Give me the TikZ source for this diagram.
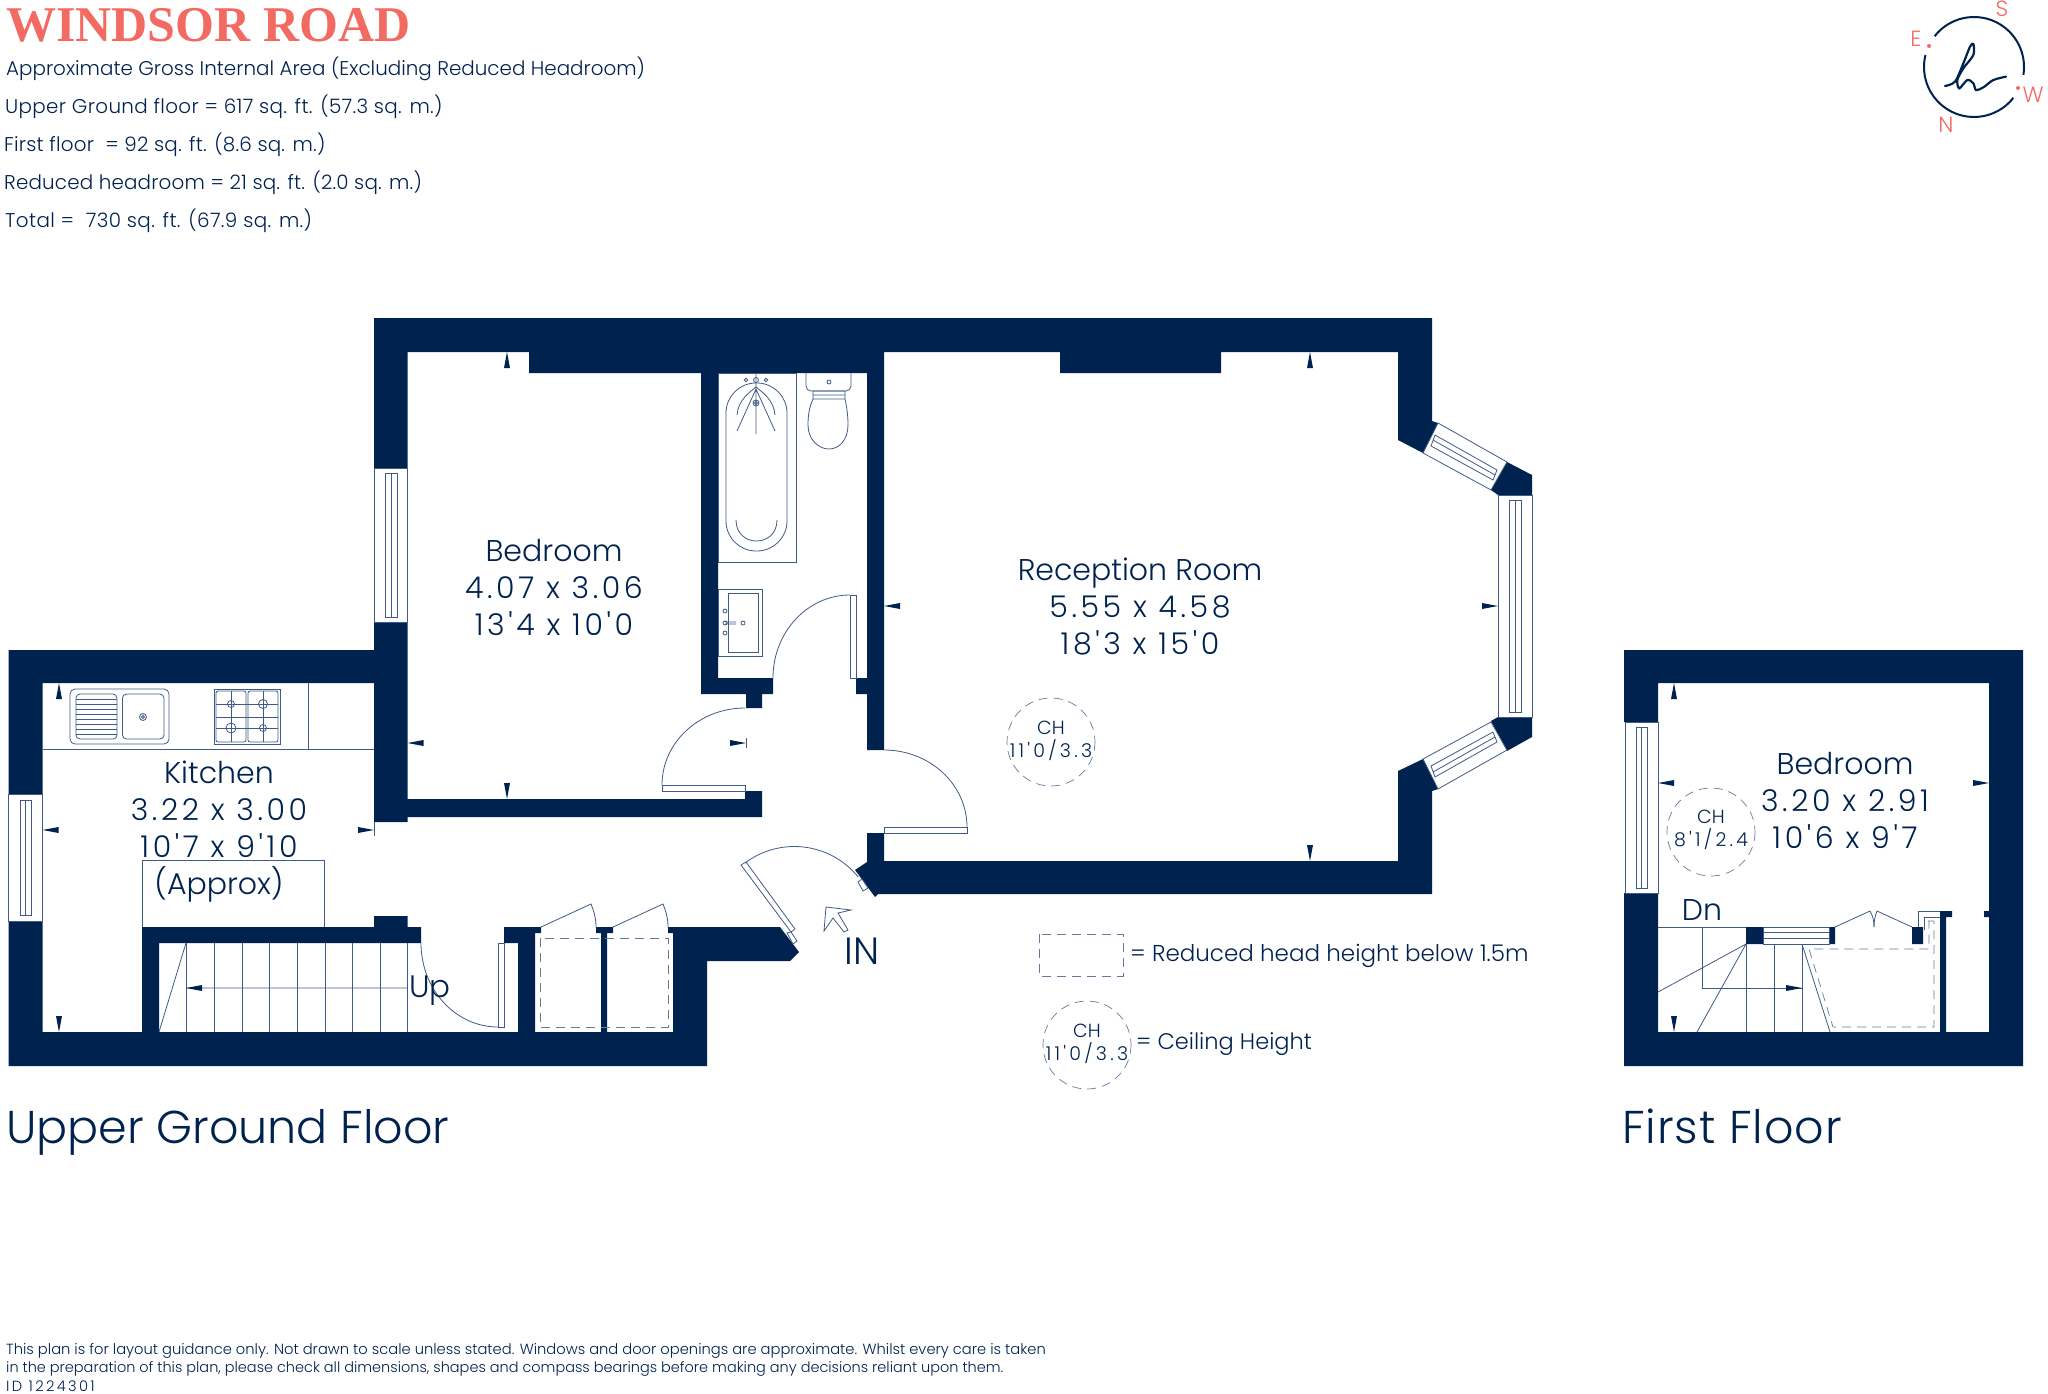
\documentclass[tikz,border=0pt]{standalone}
\usepackage{fontspec}
\setmainfont[UprightFont={* Light},Ligatures=TeXOff,Kerning=Off]{Poppins}
\newfontfamily\titlefont{Liberation Serif}
\newcommand{\spaced}[1]{\addfontfeatures{LetterSpace=#1}}
\definecolor{navy}{HTML}{00224F}
\definecolor{planline}{HTML}{3F5A86}
\definecolor{salmon}{HTML}{F26A62}
\begin{document}
\begin{tikzpicture}
      [x=1pt,y=-1pt,
       wall/.style={fill=navy},
       thinline/.style={draw=planline,line width=.8pt},
       dashline/.style={draw=planline!80,line width=.7pt,dash pattern=on 9pt off 6pt},
       roomtext/.style={text=navy,align=center,font=\fontsize{30}{37}\selectfont},
       areatext/.style={text=navy,anchor=west,inner sep=0pt,font=\fontsize{19.9}{24}\selectfont},
       floortext/.style={text=navy,anchor=base west,inner sep=0pt,font=\fontsize{46}{50}\selectfont},
       notetext/.style={text=navy,anchor=west,inner sep=0pt,font=\fontsize{14.68}{18}\selectfont},
       chtext/.style={text=navy,align=center,inner sep=0pt,font=\fontsize{19}{23}\selectfont},
       compass/.style={text=salmon,inner sep=0pt,font=\fontsize{22}{24}\selectfont}]
      \useasboundingbox (0,0) rectangle (2048,1393);

      % ground floor walls
      \fill [wall] (374,318) rectangle (1432,352)
        (374,352) rectangle (407.5,468) (374,622) rectangle (407.5,822)
        (529,352) rectangle (884,373) (1060,352) rectangle (1221,373)
        (701,373) rectangle (718,694) (701,678) rectangle (773,694) (746,694) rectangle (762,708)
        (856,678) rectangle (867,694) (867,373) rectangle (884,750)
        (407.5,799) rectangle (762,817) (745,791) rectangle (762,799)
        (8.6,650) rectangle (374,683) (8.6,683) rectangle (42.5,794) (8.6,921) rectangle (42.5,1066)
        (8.6,1032) rectangle (707,1066)
        (142,927) rectangle (421,943) (142,943) rectangle (159,1032) (374,916) rectangle (407.5,927)
        (504,927) rectangle (541,933) (504,933) rectangle (535,943) (518,943) rectangle (535,1032)
        (596,927) rectangle (613,933) (601,933) rectangle (607,1032);
      \fill [wall] (1398,352) -- (1432,352) -- (1432,421) -- (1438,423) -- (1423,453) -- (1398,440) -- cycle;
      \fill [wall] (1507,462) -- (1532,475) -- (1532,495) -- (1498,495) -- (1491,490) -- cycle;
      \fill [wall] (1498,717) -- (1532,717) -- (1532,737) -- (1507,751) -- (1491,721) -- cycle;
      \fill [wall] (1423,759) -- (1438,789) -- (1432,791) -- (1432,894) -- (878,894) -- (875,897) -- (855,870)
        -- (867,862) -- (867,833) -- (884,833) -- (884,861) -- (1398,861) -- (1398,771) -- cycle;
      \fill [wall] (668,927) -- (780,927) -- (799,952) -- (790,961) -- (707,961) -- (707,1032) -- (673,1032)
        -- (673,933) -- (668,933) -- cycle;

      % first floor walls
      \fill [wall] (1624,650) rectangle (2023,683) (1624,683) rectangle (1658,722) (1624,893) rectangle (1658,1066)
        (1658,1032) rectangle (2023,1066) (1989,683) rectangle (2023,1032)
        (1746,927) rectangle (1763,944) (1829,927) rectangle (1835,944) (1912,927) rectangle (1923,944)
        (1940,911) rectangle (1946,1032) (1946,911) rectangle (1952,917) (1984,911) rectangle (1989,917);

      % windows
      \draw [thinline] (8.6,794) rectangle (42.5,921) (20,800) rectangle (31,915) (25.5,800) -- (25.5,915);
      \draw [thinline] (374,468) rectangle (407.5,622) (385,473) rectangle (397,617) (391,473) -- (391,617);
      \draw [thinline] (1498,495) rectangle (1532,717) (1509,500) rectangle (1521,712) (1515,500) -- (1515,712);
      \draw [thinline] (1438,423) -- (1507,462) -- (1491,490) -- (1423,453) -- cycle
        (1435,435) -- (1497,470) -- (1493,480) -- (1431,446) -- cycle (1433,440) -- (1495,475);
      \draw [thinline] (1438,789) -- (1507,750) -- (1491,722) -- (1423,759) -- cycle
        (1435,777) -- (1497,742) -- (1493,732) -- (1431,766) -- cycle (1433,772) -- (1495,737);
      \draw [thinline] (1625,722) rectangle (1658,893) (1636,727) rectangle (1647,888) (1641.5,727) -- (1641.5,888);
      \draw [thinline] (1763,927) rectangle (1829,944) (1763,932) -- (1829,932) (1763,938) -- (1829,938);

      % doors
      \draw [thinline] (421,943) arc [start angle=180,end angle=90,x radius=77,y radius=84];
      \draw [thinline] (498,943) rectangle (504,1027);
      \draw [thinline] (745,708) arc [start angle=-90,end angle=-180,x radius=83,y radius=77];
      \draw [thinline] (662,785) rectangle (745,791);
      \draw [thinline] (773,678) arc [start angle=180,end angle=270,x radius=77,y radius=83];
      \draw [thinline] (850,595) rectangle (856,678);
      \draw [thinline] (884,750) arc [start angle=-90,end angle=0,x radius=83,y radius=77];
      \draw [thinline] (884,827) rectangle (967,833);
      \draw [thinline] (745,863) arc [start angle=-127,end angle=-39,radius=82];
      \draw [thinline] (741,865) -- (746,862) -- (795,929) -- (791,932) -- cycle;
      \draw [thinline, fill=white] (787,933) -- (791,932) -- (797,941) -- (793,944) -- cycle;
      \draw [thinline, fill=white] (858,882) -- (862,879) -- (868,888) -- (863,891) -- cycle;
      \draw [thinline] (541,927) -- (591,904) .. controls (594,911) and (596,919) .. (596,927);
      \draw [thinline] (613,927) -- (663,904) .. controls (666,911) and (668,919) .. (668,927);
      \draw [thinline] (1835,927) -- (1870,911) .. controls (1873,916) and (1874,921) .. (1874,927);
      \draw [thinline] (1912,927) -- (1877,911) .. controls (1875,916) and (1874,921) .. (1874,927);
      \draw [thinline] (1918,927) -- (1918,911) -- (1940,911) (1924,930) -- (1924,917) -- (1940,917);

      % entry arrow
      \draw [thinline] (826,907) -- (851,910) -- (838,913) -- (848,930) -- (844,932) -- (833,918) -- (824,931) -- cycle;

      % kitchen fittings
      \draw [thinline] (42.5,749) -- (374,749) (308,683) -- (308,749);
      \draw [thinline, rounded corners=5pt] (70,689) rectangle (169,744);
      \draw [thinline, rounded corners=4pt] (76,694) rectangle (117,739);
      \draw [thinline, rounded corners=4pt] (122.5,694) rectangle (164,739);
      \foreach \y in {699,704,...,734}
        \draw [thinline] (76,\y) -- (117,\y);
      \draw [thinline] (143,717) circle (3.5) (143,717) circle (1.5);
      \draw [thinline] (214,689) rectangle (280,744);
      \draw [thinline, rounded corners=2pt] (216,691) rectangle (246,742) (248,691) rectangle (278,742);
      \draw [thinline] (216,717) -- (278,717) (216,704) -- (278,704) (216,728) -- (278,728)
        (231,691) -- (231,742) (263,691) -- (263,742);
      \draw [thinline] (231,704) circle (3.5) (263,704) circle (4.5) (231,728) circle (5) (263,728) circle (3.5);
      \draw [thinline] (142,927) -- (142,860) -- (324,860) -- (324,927);

      % stairs
      \foreach \x in {186,214,242,269,297,325,352,380,407.5}
        \draw [thinline] (\x,943) -- (\x,1032);
      \draw [thinline] (186,943) -- (159,1032) (186,988) -- (407.5,988);
      \draw [thinline] (1658,927) -- (1746,927) (1702,927) -- (1702,988) -- (1802,988);
      \foreach \x in {1746,1774,1802}
        \draw [thinline] (\x,944) -- (\x,1032);
      \draw [thinline] (1746,944) -- (1658,992) (1746,944) -- (1697,1032) (1802,944) -- (1830,1032);
      \draw [dashline] (1928,921) -- (1934,921) -- (1934,1027) -- (1833,1027) -- (1809,949) -- (1929,949) -- (1929,921);

      % bathroom
      \draw [thinline] (718,373) rectangle (796,562);
      \draw [thinline, rounded corners=30pt] (726,383) rectangle (787,551);
      \draw [thinline] (736,520) .. controls (736,548) and (777,548) .. (777,520);
      \draw [thinline] (756,373) -- (756,434) (756,389) -- (737,431) (756,389) -- (775,431);
      \draw [thinline] (737,415) .. controls (738,400) and (750,392) .. (756,387) .. controls (762,392) and (774,400) .. (775,415);
      \draw [thinline] (746,380) circle (1.8) (756,380) circle (2.5) (766,380) circle (1.8) (756,403) circle (3) (756,403) circle (1.5);
      \draw [thinline, rounded corners=5pt] (806,373) -- (806,391) -- (851,391) -- (851,373);
      \draw [thinline] (829,382) circle (2) (813,391) rectangle (845,395) (813,395) rectangle (845,399);
      \draw [thinline] (813,399) .. controls (809,408) and (808,416) .. (808,425) .. controls (808,440) and (819,449) .. (829,449)
        .. controls (839,449) and (848,440) .. (848,425) .. controls (848,416) and (847,408) .. (845,399);
      \draw [thinline] (718,589) rectangle (762.5,656) (728,593) rectangle (758,652);
      \draw [thinline] (725,611) circle (2) (725,623) circle (2) (725,633) circle (2) (743,623) circle (2) (725,622) -- (736,622) (725,624) -- (736,624);

      % reduced head height
      \draw [dashline] (540,938) rectangle (668,1027);
      \draw [dashline] (1039,934) rectangle (1123,976);

      % dimension pointers
      \foreach \x/\y/\dx/\dy in {59/683/0/1, 59/1032/0/-1, 42.5/830/1/0, 374/830/-1/0,
          507/352/0/1, 507/799/0/-1, 407.5/743/1/0, 746/743/-1/0,
          1310/352/0/1, 1310/861/0/-1, 884/606/1/0, 1498/606/-1/0,
          1674/683/0/1, 1674/1032/0/-1, 1658/783/1/0, 1989/783/-1/0,
          186/988/1/0, 1802/988/-1/0}
        \fill [wall] (\x,\y) -- ++(16*\dx+3*\dy,16*\dy+3*\dx) -- ++(-6*\dy,-6*\dx) -- cycle;
      \draw [thinline] (374,822) -- (374,836) (746,738) -- (746,748);

      % ceiling height circles
      \draw [dashline] (1051,742) circle (44) (1711,832) circle (44) (1087,1045) circle (44);
      \node [chtext] (chreception) at (1051,741) {CH\\{\spaced{17} 11'0/3.3}};
      \node [chtext] (chfirst) at (1711,830) {CH\\{\spaced{17} 8'1/2.4}};
      \node [chtext] (chlegend) at (1087,1044) {CH\\{\spaced{17} 11'0/3.3}};

      % room labels
      \node [roomtext] (bedroom) at (554,587.5) {Bedroom\\{\spaced{12} 4.07 x 3.06}\\{\spaced{12} 13'4 x 10'0}};
      \node [roomtext] (reception) at (1140,607) {Reception Room\\{\spaced{12} 5.55 x 4.58}\\{\spaced{12} 18'3 x 15'0}};
      \node [roomtext] (kitchen) at (219,832) {Kitchen\\{\spaced{12} 3.22 x 3.00}\\{\spaced{12} 10'7 x 9'10}\\(Approx)};
      \node [roomtext] (bedroomfirst) at (1845,800) {Bedroom\\{\spaced{12} 3.20 x 2.91}\\{\spaced{12} 10'6 x 9'7}};
      \node [roomtext, inner sep=0pt, font=\fontsize{31}{37}\selectfont] (up) at (430,991) {Up};
      \node [roomtext, inner sep=0pt] (dn) at (1702,910) {Dn};
      \node [roomtext, inner sep=0pt, font=\fontsize{38}{44}\selectfont] (in) at (862,951) {IN};

      % heading
      \node [anchor=west, inner sep=0pt, text=salmon, font=\titlefont\bfseries\fontsize{50}{56}\selectfont] (title) at (6,25) {WINDSOR ROAD};
      \node [areatext] (area0) at (6,69) {Approximate Gross Internal Area (Excluding Reduced Headroom)};
      \node [areatext] (area1) at (5,107) {\spaced{1.7}Upper Ground floor = 617 sq. ft. (57.3 sq. m.)};
      \node [areatext] (area2) at (4,145) {\spaced{1}First floor\ \ = 92 sq. ft. (8.6 sq. m.)};
      \node [areatext] (area3) at (4,183) {\spaced{.8}Reduced headroom = 21 sq. ft. (2.0 sq. m.)};
      \node [areatext] (area4) at (5,221) {\spaced{1.9}Total =\ \ 730 sq. ft. (67.9 sq. m.)};

      \node [areatext, font=\fontsize{23}{26}\selectfont] (legend1) at (1130,956) {= Reduced head height below 1.5m};
      \node [areatext, font=\fontsize{22.5}{26}\selectfont] (legend2) at (1136,1044) {= Ceiling Height};
      \node [floortext] (ground) at (6,1143) {Upper Ground Floor};
      \node [floortext] (first) at (1622,1143) {\spaced{2}First Floor};

      \node [notetext] (note1) at (6,1351) {This plan is for layout guidance only. Not drawn to scale unless stated. Windows and door openings are approximate. Whilst every care is taken};
      \node [notetext, font=\fontsize{14.48}{18}\selectfont] (note2) at (6,1369) {in the preparation of this plan, please check all dimensions, shapes and compass bearings before making any decisions reliant upon them.};
      \node [notetext] (note3) at (6,1386) {\spaced{16}ID 1224301};

      % logo
      \draw [navy, line width=2pt] (1974,67) ++(-142:50) arc [start angle=-142,end angle=9,radius=50];
      \draw [navy, line width=2pt] (1974,67) ++(38:50) arc [start angle=38,end angle=194,radius=50];
      \begin{scope}[shift={(1880,0)},x=.3333pt,y=-.3333pt]
        \draw [navy, line width=2.2pt, line cap=round] plot [smooth] coordinates
          {(195,258) (225,245) (250,190) (270,140) (280,132) (280,165) (250,205) (232,240) (238,265) (262,240) (280,250) (288,270) (310,262) (340,240) (378,230)};
      \end{scope}
      \fill [salmon] (1929,46) circle (2) (2018,88) circle (2);
      \node [compass] (south) at (2002,9) {S};
      \node [compass] (east) at (1916,39) {E};
      \node [compass] (west) at (2033,95) {W};
      \node [compass] (north) at (1946,125) {N};
    \end{tikzpicture}
\end{document}
